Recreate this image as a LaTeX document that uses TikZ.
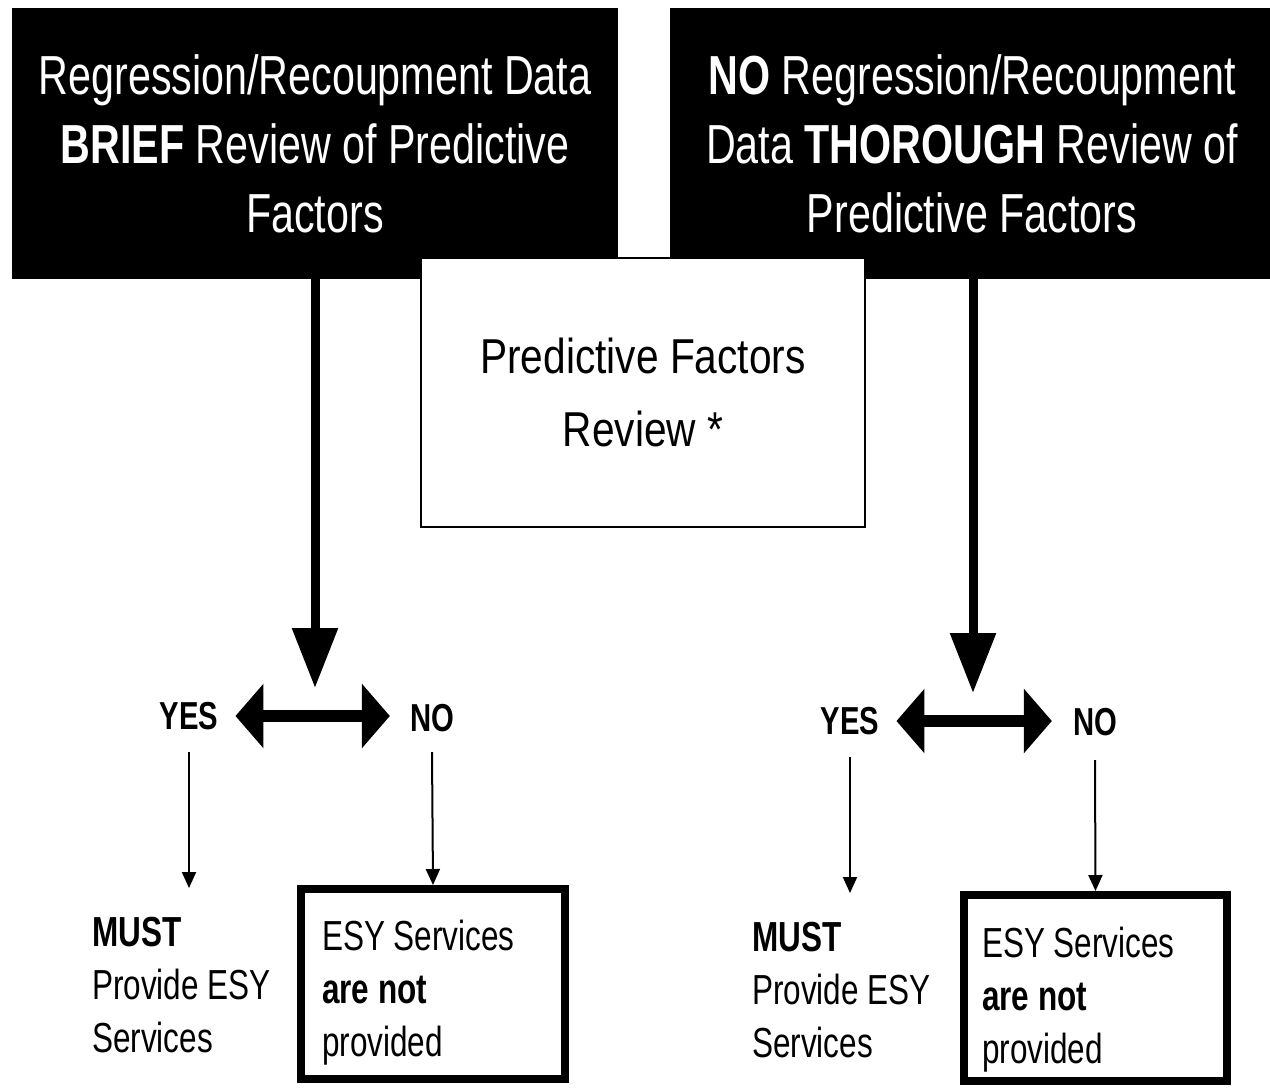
\documentclass[tikz,border=0pt]{standalone}
\usepackage{fontspec}
\setmainfont{Liberation Sans}[FakeStretch=0.75]
\newfontfamily\midfont{Liberation Sans}[FakeStretch=0.83]
\usetikzlibrary{arrows.meta,calc}
\begin{document}
\begin{tikzpicture}[x=1pt,y=-1pt,
 topbox/.style={fill=black, draw=none, text=white, align=center, inner sep=0pt, font=\fontsize{55}{69}\selectfont},
 midbox/.style={fill=white, draw=black, line width=2pt, align=center, inner sep=0pt, font=\midfont\fontsize{49}{73}\selectfont},
 outbox/.style={draw=black, line width=8pt, fill=white, inner sep=0pt},
 plaintext/.style={align=left, anchor=north west, inner sep=0pt, font=\fontsize{42}{53}\selectfont},
 yn/.style={inner sep=0pt, font=\bfseries\fontsize{39}{47}\selectfont},
 bigarr/.style={line width=9pt, -{Triangle[width=44pt,length=60pt]}},
 dblarr/.style={line width=12pt, {Triangle[width=63pt,length=28pt]}-{Triangle[width=63pt,length=28pt]}},
 thinarr/.style={line width=2pt, -{Triangle[width=14pt,length=16pt]}}]
\useasboundingbox[fill=white] (0,0) rectangle (1270,1088);

% top boxes
\node[topbox, minimum width=606pt, minimum height=271pt] (L) at (315,143.5)
  {Regression/Recoupment Data\\ \textbf{BRIEF} Review of Predictive\\ Factors};
\node[topbox, minimum width=604pt, minimum height=271pt] (R) at (972,143.5)
  {\textbf{NO} Regression/Recoupment\\ Data \textbf{THOROUGH} Review of\\ Predictive Factors};

% middle box
\node[midbox, minimum width=444pt, minimum height=269pt] (M) at (643,392.5)
  {Predictive Factors\\ Review *};

% yes / no labels
\node[yn] (Y1) at (189,716) {YES};
\node[yn] (N1) at (432,718) {NO};
\node[yn] (Y2) at (850,721) {YES};
\node[yn] (N2) at (1095,722) {NO};

% junction points of the big arrows
\coordinate (j1) at (315,688);
\coordinate (j2) at (973,693);
\draw[bigarr] (L.south -| j1) -- (j1);
\draw[bigarr] (R.south -| j2) -- (j2);

% double arrows
\draw[dblarr, shorten <=17pt, shorten >=20pt] (Y1.east) -- (Y1.east -| N1.west);
\draw[dblarr, shorten <=17pt, shorten >=21pt] (Y2.east) -- (Y2.east -| N2.west);

% outcome boxes
\node[outbox, minimum width=264pt, minimum height=190pt] (B1) at (433,984) {};
\node[outbox, minimum width=263pt, minimum height=186pt] (B2) at (1095.5,988) {};

\node[plaintext] (T1) at (322,920) {ESY Services\\ \textbf{are not}\\ provided};
\node[plaintext] (T2) at (982,927) {ESY Services\\ \textbf{are not}\\ provided};
\node[plaintext] (S1) at (92,917) {\textbf{MUST}\\ Provide ESY\\ Services};
\node[plaintext] (S2) at (752,922) {\textbf{MUST}\\ Provide ESY\\ Services};

% thin arrows
\draw[thinarr] ([yshift=-22pt]Y1.south) -- ++(0,136);
\draw[thinarr] ([yshift=-20pt]N1.south) -- (B1.north);
\draw[thinarr] ([yshift=-22pt]Y2.south) -- ++(0,136);
\draw[thinarr] ([yshift=-24pt]N2.south) -- (B2.north);
\end{tikzpicture}
\end{document}
